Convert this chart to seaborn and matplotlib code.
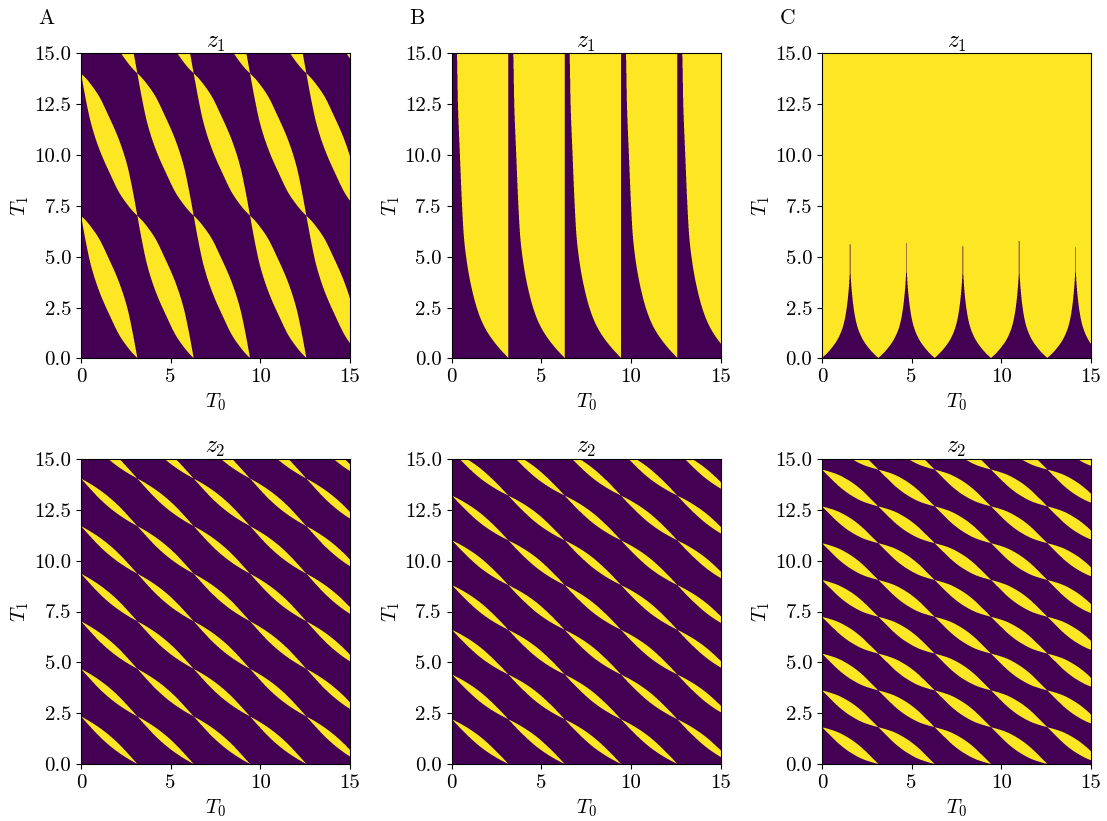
import numpy as np
import matplotlib
matplotlib.use("Agg")
import matplotlib.pyplot as plt
from matplotlib.colors import LinearSegmentedColormap
import seaborn as sns

plt.rcParams["font.family"] = ["cmr10", "DejaVu Serif"]
plt.rcParams["mathtext.fontset"] = "cm"
plt.rcParams["axes.unicode_minus"] = False
plt.rcParams["axes.formatter.use_mathtext"] = True

# Boundaries: (T0, T1) samples across one T0 period of pi.
T0_PERIOD = np.pi
AXIS_MAX = 15.0
TICKS_T0 = [0, 5, 10, 15]
TICKS_T1 = [0.0, 2.5, 5.0, 7.5, 10.0, 12.5, 15.0]
COLUMN_TITLES = ["A", "B", "C"]
ROW_TITLES = [r"$z_1$", r"$z_2$"]
PURPLE, YELLOW = "#440154", "#fde725"

# z1 column A: upper edge of the yellow lens, repeats in T1 every a1_period
a1_period = 7.0
a1_t0 = [0, 0.26, 0.54, 1.0, 1.5, 2.14, 2.6, 2.88, 3.1416]
a1_t1 = [7.0, 6.77, 6.47, 5.88, 4.98, 3.68, 2.4, 1.25, 0.0]

# z1 column B: purple below this edge
b1_t0 = [0, 0.27, 0.33, 0.44, 0.56, 0.66, 0.80, 1.02, 1.39, 1.73, 2.10, 2.60, 3.1416]
b1_t1 = [15.5, 15.0, 12.5, 10.0, 7.5, 6.0, 4.9, 3.75, 2.45, 1.67, 1.10, 0.52, 0.0]

# z1 column C: purple below this edge (rising half, mirrored), thin tip per peak
c1_t0 = [0, 0.3, 0.65, 0.84, 1.05, 1.18, 1.28, 1.39, 1.50, 1.5708]
c1_t1 = [0, 0.25, 0.62, 0.87, 1.25, 1.58, 1.95, 2.55, 3.49, 4.5]
c1_tip_t1 = [5.6, 5.65, 5.5, 5.75, 5.45]

# z2 lenses: upper edge, repeating in T1
a2_period = 2.34
a2_t0 = [0, 0.46, 1.02, 1.58, 2.14, 2.6, 3.1416]
a2_t1 = [2.34, 2.11, 1.79, 1.41, 0.96, 0.53, 0.0]

b2_period = 2.2
b2_t0 = [0, 0.5, 1.06, 1.62, 2.17, 2.73, 3.1416]
b2_t1 = [2.2, 1.97, 1.67, 1.31, 0.88, 0.39, 0.0]

c2_period = 1.81
c2_t0 = [0, 0.37, 0.84, 1.58, 2.14, 2.70, 3.1416]
c2_t1 = [1.81, 1.72, 1.58, 1.23, 0.86, 0.39, 0.0]

W, H = 1107, 821
AW, AH = 269, 305
SS = 4
t0 = (np.arange(AW * SS) + 0.5) * AXIS_MAX / (AW * SS)
t1 = (np.arange(AH * SS) + 0.5) * AXIS_MAX / (AH * SS)
T0, T1 = np.meshgrid(t0, t1)
phase = np.mod(T0, T0_PERIOD)


def smooth_edge(xs, ys, q):
    x, y = np.asarray(xs, float), np.asarray(ys, float)
    h = np.diff(x)
    d = np.diff(y) / h
    m = np.zeros_like(y)
    m[0], m[-1] = d[0], d[-1]
    for i in range(1, len(x) - 1):
        if d[i - 1] * d[i] > 0:
            w1, w2 = 2 * h[i] + h[i - 1], h[i] + 2 * h[i - 1]
            m[i] = (w1 + w2) / (w1 / d[i - 1] + w2 / d[i])
    i = np.clip(np.searchsorted(x, q) - 1, 0, len(h) - 1)
    s = (q - x[i]) / h[i]
    return ((2 * s**3 - 3 * s**2 + 1) * y[i] + (s**3 - 2 * s**2 + s) * h[i] * m[i]
            + (-2 * s**3 + 3 * s**2) * y[i + 1] + (s**3 - s**2) * h[i] * m[i + 1])


def shrink(mask):
    """Average the fine mask down to one cell per output pixel."""
    return mask.reshape(AH, SS, AW, SS).mean(axis=(1, 3))


def lens_matrix(period, xs, ys):
    upper = smooth_edge(xs, ys, phase)
    lower = period - smooth_edge(xs, ys, T0_PERIOD - phase)
    inside = np.zeros_like(T0, dtype=bool)
    for k in range(int(AXIS_MAX / period) + 2):
        inside |= (T1 > lower + k * period) & (T1 < upper + k * period)
    return shrink(inside)


def edge_matrix(xs, ys):
    return shrink(T1 > smooth_edge(xs, ys, phase))


def peaked_matrix(xs, ys, tips):
    folded = T0_PERIOD / 2 - np.abs(phase - T0_PERIOD / 2)
    yellow = T1 > smooth_edge(xs, ys, folded)
    for k, tip in enumerate(tips):
        centre = T0_PERIOD / 2 + k * T0_PERIOD
        yellow &= ~((np.abs(T0 - centre) < 0.018) & (T1 < tip))
    return shrink(yellow)


matrices = [
    [lens_matrix(a1_period, a1_t0, a1_t1),
     edge_matrix(b1_t0, b1_t1),
     peaked_matrix(c1_t0, c1_t1, c1_tip_t1)],
    [lens_matrix(a2_period, a2_t0, a2_t1),
     lens_matrix(b2_period, b2_t0, b2_t1),
     lens_matrix(c2_period, c2_t0, c2_t1)],
]

two_tone = LinearSegmentedColormap.from_list("two_tone", [PURPLE, YELLOW])
fig = plt.figure(figsize=(W / 100, H / 100), dpi=100)
lefts = [81, 451.5, 822]
tops = [53.5, 459]

for r, top in enumerate(tops):
    for c, left in enumerate(lefts):
        ax = fig.add_axes([left / W, 1 - (top + AH) / H, AW / W, AH / H])
        sns.heatmap(matrices[r][c], ax=ax, cmap=two_tone, vmin=0, vmax=1,
                    cbar=False, xticklabels=False, yticklabels=False, square=False)
        ax.invert_yaxis()
        ax.set_xticks([v / AXIS_MAX * AW for v in TICKS_T0])
        ax.set_xticklabels([str(v) for v in TICKS_T0], rotation=0)
        ax.set_yticks([v / AXIS_MAX * AH for v in TICKS_T1])
        ax.set_yticklabels([f"{v:.1f}" for v in TICKS_T1], rotation=0)
        ax.tick_params(length=3.5, width=0.8, labelsize=15, pad=3.5)
        for s in ax.spines.values():
            s.set_visible(True)
            s.set_linewidth(0.8)
        ax.set_xlabel(r"$T_0$", fontsize=15, labelpad=4)
        ax.set_ylabel(r"$T_1$", fontsize=15, labelpad=2)
        ax.set_title(ROW_TITLES[r], fontsize=17, pad=2)

for name, x in zip(COLUMN_TITLES, [38, 409, 780]):
    fig.text(x / W, 1 - 24.5 / H, name, fontsize=15.5, ha="left", va="baseline")

fig.savefig("out.png", dpi=100)
